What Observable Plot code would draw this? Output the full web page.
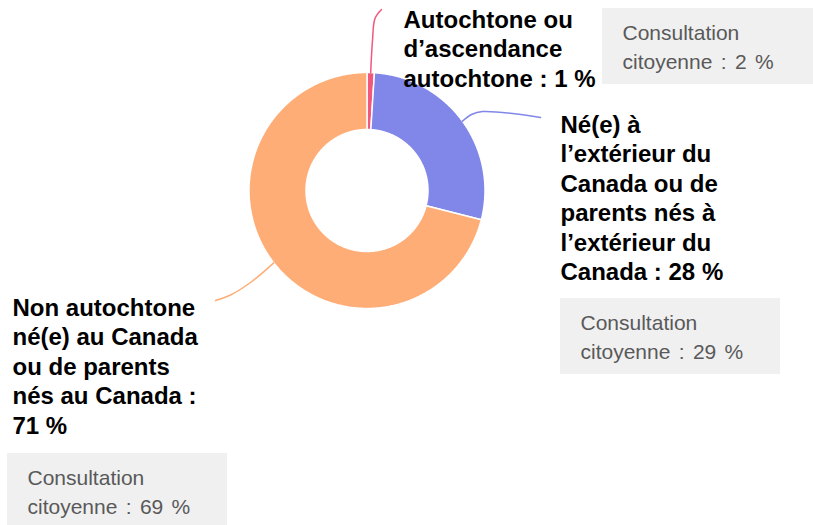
<!DOCTYPE html>
<html><head><meta charset="utf-8">
<script src="https://cdn.jsdelivr.net/npm/d3@7"></script>
<script src="https://cdn.jsdelivr.net/npm/@observablehq/plot@0.6"></script>
<style>
body{margin:0;background:#fff}
</style>
</head><body><div id="chart"></div>
<script>
// ---- data ----
const categories = [
  "Autochtone ou d’ascendance autochtone",
  "Né(e) à l’extérieur du Canada ou de parents nés à l’extérieur du Canada",
  "Non autochtone né(e) au Canada ou de parents nés au Canada"
];
const shares = [1, 28, 71];
const consultationShares = [2, 29, 69];
const colors = ["#f0587c", "#8087e8", "#ffad77"];
const labelTemplates = [
  "Autochtone ou\nd’ascendance\nautochtone : {v} %",
  "Né(e) à\nl’extérieur du\nCanada ou de\nparents nés à\nl’extérieur du\nCanada : {v} %",
  "Non autochtone\nné(e) au Canada\nou de parents\nnés au Canada :\n{v} %"
];
const consultationTemplate = "Consultation\ncitoyenne : {v} %";

// ---- layout (pixels) ----
const center = [366.5, 190];
const rOuter = 118, rInner = 61;
const labelFont = 24, labelLH = 1.23;
const boxFont = 21, boxLH = 1.35;
// first-line baselines of the bold labels
const labelPos = [[403, 27], [560, 132], [12, 315]];
const boxPos = [[602, 8], [560, 298], [7, 453]];
const boxSize = [220, 76];
const boxTextOffset = [20, 32]; // x offset, first baseline offset
const leaderBends = [
  [[372, 40], [374.5, 18], [381, 9]],
  [[471, 114], [482, 111], [540, 117]],
  [[250, 282], [230, 294.5], [215, 300]]
];

// ---- geometry from data ----
const pie = d3.pie().sort(null).value(d => d)(shares);
const pt = (a, r) => ({x: center[0] + r * Math.sin(a), y: center[1] - r * Math.cos(a)});
const slicePts = [];
const leaderPts = [];
pie.forEach((p, i) => {
  const cat = categories[i];
  const n = Math.max(2, Math.ceil((p.endAngle - p.startAngle) / (Math.PI / 360)));
  for (let k = 0; k <= n; k++) {
    const a = p.startAngle + (p.endAngle - p.startAngle) * k / n;
    slicePts.push({cat, ...pt(a, rOuter)});
  }
  for (let k = n; k >= 0; k--) {
    const a = p.startAngle + (p.endAngle - p.startAngle) * k / n;
    slicePts.push({cat, ...pt(a, rInner)});
  }
  const mid = (p.startAngle + p.endAngle) / 2;
  leaderPts.push({cat, ...pt(mid, rOuter)});
  leaderBends[i].forEach(([x, y]) => leaderPts.push({cat, x, y}));
});

// Plot's lineAnchor "top" puts the first baseline at 0.71 * lineHeight em
const labelShift = 0.71 * labelLH * labelFont;
const boxShift = 0.71 * boxLH * boxFont;
const labels = categories.map((cat, i) => ({
  cat, x: labelPos[i][0], y: labelPos[i][1] - labelShift,
  text: labelTemplates[i].replace("{v}", shares[i])
}));
const boxes = categories.map((cat, i) => ({
  cat, x1: boxPos[i][0], x2: boxPos[i][0] + boxSize[0],
  y1: boxPos[i][1], y2: boxPos[i][1] + boxSize[1],
  tx: boxPos[i][0] + boxTextOffset[0], ty: boxPos[i][1] + boxTextOffset[1] - boxShift,
  text: consultationTemplate.replace("{v}", consultationShares[i])
}));

const font = "'Liberation Sans', Arial, Helvetica, sans-serif";
const chart = Plot.plot({
  width: 813, height: 525,
  margin: 0,
  style: {background: "#fff", fontFamily: font},
  x: {domain: [0, 813], range: [0, 813], axis: null},
  y: {domain: [0, 525], range: [0, 525], axis: null},
  color: {domain: categories, range: colors},
  marks: [
    Plot.line(slicePts, {x: "x", y: "y", z: "cat", fill: "cat", stroke: "white", strokeWidth: 1.5, curve: "linear-closed"}),
    Plot.line(leaderPts, {x: "x", y: "y", z: "cat", stroke: "cat", strokeWidth: 1.5, curve: "catmull-rom"}),
    Plot.rect(boxes, {x1: "x1", x2: "x2", y1: "y1", y2: "y2", fill: "#f0f0f0"}),
    Plot.text(boxes, {x: "tx", y: "ty", text: "text", textAnchor: "start", lineAnchor: "top", fontSize: boxFont, lineHeight: boxLH, fill: "#595959", fontFamily: font, ariaLabel: "consultation"}),
    Plot.text(labels, {x: "x", y: "y", text: "text", textAnchor: "start", lineAnchor: "top", fontSize: labelFont, fontWeight: "bold", lineHeight: labelLH, fill: "#000", fontFamily: font})
  ]
});
d3.select(chart).selectAll("text").filter(function () {
  return this.textContent.startsWith("Consultation");
}).style("word-spacing", "2.5px");
document.getElementById("chart").appendChild(chart);
</script>
</body></html>
